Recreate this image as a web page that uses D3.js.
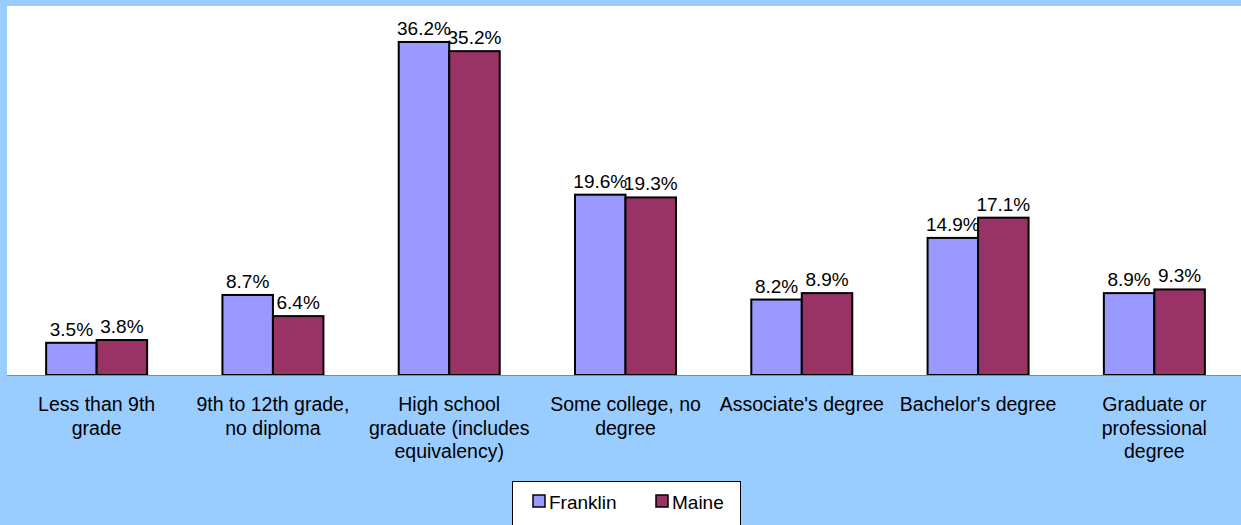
<!DOCTYPE html>
<html><head><meta charset="utf-8">
<script src="https://cdn.jsdelivr.net/npm/d3@7"></script>
<style>html,body{margin:0;padding:0;background:#99CCFF;}svg{display:block;}</style>
</head><body>
<svg id="chart" width="1241" height="525"></svg>
<script>
const categories = ["Less than 9th\ngrade", "9th to 12th grade,\nno diploma", "High school\ngraduate (includes\nequivalency)", "Some college, no\ndegree", "Associate's degree", "Bachelor's degree", "Graduate or\nprofessional\ndegree"];
const seriesNames = ["Franklin", "Maine"];
const franklin = [3.5, 8.7, 36.2, 19.6, 8.2, 14.9, 8.9];
const maine = [3.8, 6.4, 35.2, 19.3, 8.9, 17.1, 9.3];
const colors = ["#9999FF", "#993366"];

const svg = d3.select("#chart");
const W = 1241, H = 525;
const font = "'Liberation Sans', Arial, sans-serif";
svg.append("rect").attr("width", W).attr("height", H).attr("fill", "#99CCFF");

const plotL = 7, plotR = 1241, plotT = 7, plotB = 375;
svg.append("rect").attr("x", plotL).attr("y", 6).attr("width", plotR - plotL).attr("height", plotB - 6).attr("fill", "#fff");

const x = d3.scaleBand().domain(categories).range([plotL + 1.5, plotR + 1.5]).paddingInner(0).paddingOuter(0);
const y = d3.scaleLinear().domain([0, 40]).range([plotB, plotT]);
const bw = 50.5;

const series = [franklin, maine];
series.forEach((vals, si) => {
  const g = svg.append("g");
  const data = categories.map((c, i) => ({c, v: vals[i]}));
  const cx = d => x(d.c) + x.bandwidth() / 2 + (si - 1) * bw;
  g.selectAll("rect").data(data).join("rect")
    .attr("x", cx).attr("y", d => y(d.v))
    .attr("width", bw).attr("height", d => y(0) - y(d.v))
    .attr("fill", colors[si]).attr("stroke", "#000").attr("stroke-width", 2);
  g.selectAll("text").data(data).join("text")
    .attr("x", d => cx(d) + bw / 2).attr("y", d => y(d.v) - 7)
    .attr("text-anchor", "middle").attr("font-family", font).attr("font-size", 19)
    .attr("fill", "#000").text(d => d.v.toFixed(1) + "%");
});

// baseline
svg.append("line").attr("x1", plotL).attr("x2", plotR).attr("y1", plotB + 0.5).attr("y2", plotB + 0.5)
  .attr("stroke", "#888").attr("stroke-width", 1);

// category labels
const xAxis = d3.axisBottom(x).tickSize(0).tickPadding(0);
const ax = svg.append("g").attr("transform", `translate(0,${plotB})`).call(xAxis);
ax.select(".domain").remove();
ax.selectAll(".tick text").each(function(d) {
  const t = d3.select(this);
  t.text(null).attr("font-family", font).attr("font-size", 19.5).attr("fill", "#000").attr("y", 36).attr("dy", null);
  d.split("\n").forEach((line, i) => {
    t.append("tspan").attr("x", 0).attr("y", 36 + i * 23.5).text(line);
  });
});

// legend
const lg = svg.append("g");
lg.append("rect").attr("x", 512.5).attr("y", 481.5).attr("width", 228).attr("height", 50)
  .attr("fill", "#fff").attr("stroke", "#000").attr("stroke-width", 1);
const legX = [533, 656];
seriesNames.forEach((n, i) => {
  lg.append("rect").attr("x", legX[i]).attr("y", 495).attr("width", 12).attr("height", 12)
    .attr("fill", colors[i]).attr("stroke", "#000").attr("stroke-width", 1.5);
  lg.append("text").attr("x", legX[i] + 16).attr("y", 509).attr("font-family", font)
    .attr("font-size", 19).attr("fill", "#000").text(n);
});
</script>
</body></html>
